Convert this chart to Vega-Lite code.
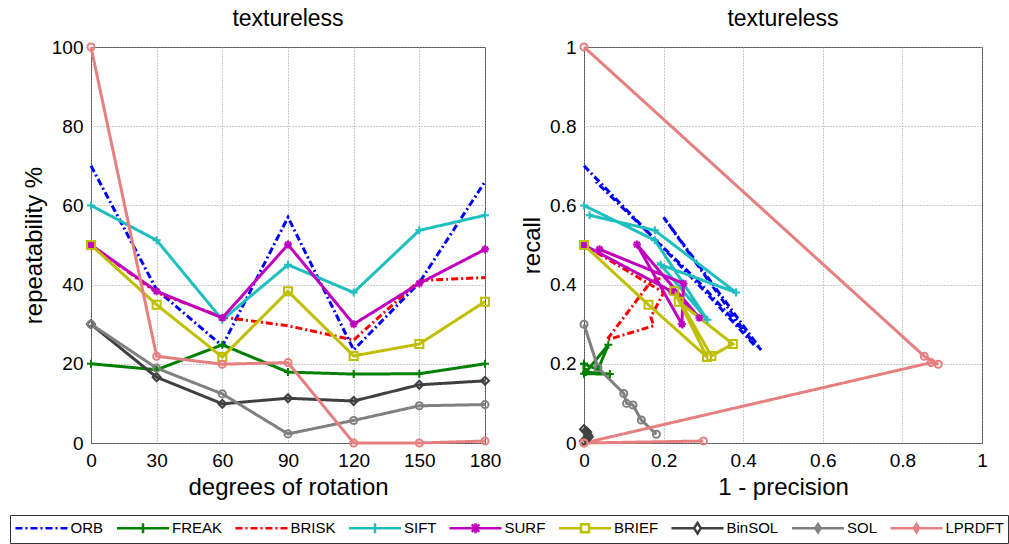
{
  "$schema": "https://vega.github.io/schema/vega-lite/v6.json",
  "padding": {"left": 9, "top": 7, "right": 4, "bottom": 2},
  "spacing": 18,
  "datasets": {
    "rep": [
      {"s": "ORB", "deg": 0, "v": 70}, {"s": "ORB", "deg": 30, "v": 38.7}, {"s": "ORB", "deg": 60, "v": 24.5}, {"s": "ORB", "deg": 90, "v": 57}, {"s": "ORB", "deg": 120, "v": 23.5}, {"s": "ORB", "deg": 150, "v": 40.5}, {"s": "ORB", "deg": 180, "v": 66},
      {"s": "FREAK", "deg": 0, "v": 20}, {"s": "FREAK", "deg": 30, "v": 18.5}, {"s": "FREAK", "deg": 60, "v": 24.8}, {"s": "FREAK", "deg": 90, "v": 17.9}, {"s": "FREAK", "deg": 120, "v": 17.4}, {"s": "FREAK", "deg": 150, "v": 17.5}, {"s": "FREAK", "deg": 180, "v": 20},
      {"s": "BRISK", "deg": 0, "v": 50}, {"s": "BRISK", "deg": 30, "v": 38}, {"s": "BRISK", "deg": 60, "v": 31.8}, {"s": "BRISK", "deg": 90, "v": 29.6}, {"s": "BRISK", "deg": 120, "v": 26}, {"s": "BRISK", "deg": 150, "v": 41}, {"s": "BRISK", "deg": 180, "v": 41.8},
      {"s": "SIFT", "deg": 0, "v": 60}, {"s": "SIFT", "deg": 30, "v": 51.2}, {"s": "SIFT", "deg": 60, "v": 31.1}, {"s": "SIFT", "deg": 90, "v": 45}, {"s": "SIFT", "deg": 120, "v": 38}, {"s": "SIFT", "deg": 150, "v": 53.7}, {"s": "SIFT", "deg": 180, "v": 57.5},
      {"s": "SURF", "deg": 0, "v": 50}, {"s": "SURF", "deg": 30, "v": 38.3}, {"s": "SURF", "deg": 60, "v": 31.6}, {"s": "SURF", "deg": 90, "v": 50.1}, {"s": "SURF", "deg": 120, "v": 30}, {"s": "SURF", "deg": 150, "v": 40.3}, {"s": "SURF", "deg": 180, "v": 48.9},
      {"s": "BRIEF", "deg": 0, "v": 50}, {"s": "BRIEF", "deg": 30, "v": 34.9}, {"s": "BRIEF", "deg": 60, "v": 21.7}, {"s": "BRIEF", "deg": 90, "v": 38.3}, {"s": "BRIEF", "deg": 120, "v": 22}, {"s": "BRIEF", "deg": 150, "v": 25}, {"s": "BRIEF", "deg": 180, "v": 35.7},
      {"s": "BinSOL", "deg": 0, "v": 30}, {"s": "BinSOL", "deg": 30, "v": 16.6}, {"s": "BinSOL", "deg": 60, "v": 9.9}, {"s": "BinSOL", "deg": 90, "v": 11.3}, {"s": "BinSOL", "deg": 120, "v": 10.6}, {"s": "BinSOL", "deg": 150, "v": 14.7}, {"s": "BinSOL", "deg": 180, "v": 15.7},
      {"s": "SOL", "deg": 0, "v": 30}, {"s": "SOL", "deg": 30, "v": 18.9}, {"s": "SOL", "deg": 60, "v": 12.4}, {"s": "SOL", "deg": 90, "v": 2.3}, {"s": "SOL", "deg": 120, "v": 5.7}, {"s": "SOL", "deg": 150, "v": 9.4}, {"s": "SOL", "deg": 180, "v": 9.7},
      {"s": "LPRDFT", "deg": 0, "v": 100}, {"s": "LPRDFT", "deg": 30, "v": 21.9}, {"s": "LPRDFT", "deg": 60, "v": 19.9}, {"s": "LPRDFT", "deg": 90, "v": 20.3}, {"s": "LPRDFT", "deg": 120, "v": 0}, {"s": "LPRDFT", "deg": 150, "v": 0}, {"s": "LPRDFT", "deg": 180, "v": 0.5}
    ],
    "pr": [
      {"s": "ORB", "i": 0, "fp": 0, "recall": 0.70}, {"s": "ORB", "i": 1, "fp": 0.30, "recall": 0.387}, {"s": "ORB", "i": 2, "fp": 0.43, "recall": 0.245}, {"s": "ORB", "i": 3, "fp": 0.20, "recall": 0.57}, {"s": "ORB", "i": 4, "fp": 0.445, "recall": 0.235}, {"s": "ORB", "i": 5, "fp": 0.29, "recall": 0.405}, {"s": "ORB", "i": 6, "fp": 0.03, "recall": 0.66},
      {"s": "FREAK", "i": 0, "fp": 0, "recall": 0.20}, {"s": "FREAK", "i": 1, "fp": 0.035, "recall": 0.185}, {"s": "FREAK", "i": 2, "fp": 0.061, "recall": 0.248}, {"s": "FREAK", "i": 3, "fp": 0.005, "recall": 0.179}, {"s": "FREAK", "i": 4, "fp": 0.065, "recall": 0.174}, {"s": "FREAK", "i": 5, "fp": 0, "recall": 0.175}, {"s": "FREAK", "i": 6, "fp": 0, "recall": 0.20},
      {"s": "BRISK", "i": 0, "fp": 0, "recall": 0.50}, {"s": "BRISK", "i": 1, "fp": 0.20, "recall": 0.38}, {"s": "BRISK", "i": 2, "fp": 0.168, "recall": 0.318}, {"s": "BRISK", "i": 3, "fp": 0.175, "recall": 0.296}, {"s": "BRISK", "i": 4, "fp": 0.057, "recall": 0.26}, {"s": "BRISK", "i": 5, "fp": 0.17, "recall": 0.41}, {"s": "BRISK", "i": 6, "fp": 0.2, "recall": 0.418},
      {"s": "SIFT", "i": 0, "fp": 0, "recall": 0.60}, {"s": "SIFT", "i": 1, "fp": 0.178, "recall": 0.512}, {"s": "SIFT", "i": 2, "fp": 0.31, "recall": 0.311}, {"s": "SIFT", "i": 3, "fp": 0.193, "recall": 0.45}, {"s": "SIFT", "i": 4, "fp": 0.382, "recall": 0.38}, {"s": "SIFT", "i": 5, "fp": 0.178, "recall": 0.537}, {"s": "SIFT", "i": 6, "fp": 0.014, "recall": 0.575},
      {"s": "SURF", "i": 0, "fp": 0, "recall": 0.50}, {"s": "SURF", "i": 1, "fp": 0.22, "recall": 0.383}, {"s": "SURF", "i": 2, "fp": 0.29, "recall": 0.316}, {"s": "SURF", "i": 3, "fp": 0.133, "recall": 0.501}, {"s": "SURF", "i": 4, "fp": 0.246, "recall": 0.30}, {"s": "SURF", "i": 5, "fp": 0.25, "recall": 0.403}, {"s": "SURF", "i": 6, "fp": 0.039, "recall": 0.489},
      {"s": "BRIEF", "i": 0, "fp": 0, "recall": 0.50}, {"s": "BRIEF", "i": 1, "fp": 0.162, "recall": 0.349}, {"s": "BRIEF", "i": 2, "fp": 0.309, "recall": 0.217}, {"s": "BRIEF", "i": 3, "fp": 0.227, "recall": 0.383}, {"s": "BRIEF", "i": 4, "fp": 0.32, "recall": 0.22}, {"s": "BRIEF", "i": 5, "fp": 0.374, "recall": 0.25}, {"s": "BRIEF", "i": 6, "fp": 0.238, "recall": 0.357},
      {"s": "BinSOL", "i": 0, "fp": 0, "recall": 0.035}, {"s": "BinSOL", "i": 1, "fp": 0.008, "recall": 0.028}, {"s": "BinSOL", "i": 2, "fp": 0.012, "recall": 0.015}, {"s": "BinSOL", "i": 3, "fp": 0.006, "recall": 0.01}, {"s": "BinSOL", "i": 4, "fp": 0, "recall": 0.005}, {"s": "BinSOL", "i": 5, "fp": 0.01, "recall": 0.02}, {"s": "BinSOL", "i": 6, "fp": 0.004, "recall": 0.03},
      {"s": "SOL", "i": 0, "fp": 0, "recall": 0.30}, {"s": "SOL", "i": 1, "fp": 0.035, "recall": 0.19}, {"s": "SOL", "i": 2, "fp": 0.10, "recall": 0.125}, {"s": "SOL", "i": 3, "fp": 0.107, "recall": 0.10}, {"s": "SOL", "i": 4, "fp": 0.123, "recall": 0.096}, {"s": "SOL", "i": 5, "fp": 0.144, "recall": 0.058}, {"s": "SOL", "i": 6, "fp": 0.182, "recall": 0.022},
      {"s": "LPRDFT", "i": 0, "fp": 0, "recall": 1.0}, {"s": "LPRDFT", "i": 1, "fp": 0.855, "recall": 0.219}, {"s": "LPRDFT", "i": 2, "fp": 0.89, "recall": 0.199}, {"s": "LPRDFT", "i": 3, "fp": 0.872, "recall": 0.203}, {"s": "LPRDFT", "i": 4, "fp": 0, "recall": 0}, {"s": "LPRDFT", "i": 5, "fp": 0, "recall": 0}, {"s": "LPRDFT", "i": 6, "fp": 0.30, "recall": 0.005}
    ]
  },
  "hconcat": [
    {
      "width": 394,
      "height": 396,
      "title": "textureless",
      "data": {"name": "rep"},
      "encoding": {
        "x": {"field": "deg", "type": "quantitative", "scale": {"domain": [0, 180], "nice": false}, "axis": {"values": [0, 30, 60, 90, 120, 150, 180], "title": "degrees of rotation"}},
        "y": {"field": "v", "type": "quantitative", "scale": {"domain": [0, 100], "nice": false}, "axis": {"values": [0, 20, 40, 60, 80, 100], "title": "repeatability %"}},
        "color": {
          "field": "s", "type": "nominal",
          "scale": {"domain": ["ORB", "FREAK", "BRISK", "SIFT", "SURF", "BRIEF", "BinSOL", "SOL", "LPRDFT"], "range": ["#0000ff", "#008000", "#ff0000", "#1fbfbf", "#bf00bf", "#bfbf00", "#404040", "#808080", "#e67f7f"]},
          "legend": {"orient": "none", "legendX": -81, "legendY": 468, "direction": "horizontal", "columns": 9, "title": null}
        }
      },
      "layer": [
        {
          "mark": {"type": "line", "strokeWidth": 3},
          "encoding": {
            "strokeDash": {
              "field": "s", "type": "nominal",
              "scale": {"domain": ["ORB", "FREAK", "BRISK", "SIFT", "SURF", "BRIEF", "BinSOL", "SOL", "LPRDFT"], "range": [[7, 3, 2, 3], [1, 0], [7, 3, 2, 3], [1, 0], [1, 0], [1, 0], [1, 0], [1, 0], [1, 0]]}
            }
          }
        },
        {"transform": [{"filter": "datum.s === 'FREAK' || datum.s === 'SIFT'"}], "mark": {"type": "point", "shape": "M-1,0H1M0,-1V1", "filled": false, "strokeWidth": 2, "size": 64, "opacity": 1}},
        {"transform": [{"filter": "datum.s === 'SURF'"}], "mark": {"type": "point", "shape": "M-1,0H1M0,-1V1M-0.7,-0.7L0.7,0.7M-0.7,0.7L0.7,-0.7", "filled": false, "strokeWidth": 2, "size": 64, "opacity": 1}},
        {"transform": [{"filter": "datum.s === 'BRIEF'"}], "mark": {"type": "point", "shape": "square", "filled": false, "strokeWidth": 2, "size": 64, "opacity": 1}},
        {"transform": [{"filter": "datum.s === 'BinSOL'"}], "mark": {"type": "point", "shape": "diamond", "filled": false, "strokeWidth": 2, "size": 64, "opacity": 1}},
        {"transform": [{"filter": "datum.s === 'SOL' || datum.s === 'LPRDFT'"}], "mark": {"type": "point", "shape": "circle", "filled": false, "strokeWidth": 2, "size": 50, "opacity": 1}},
        {
          "transform": [{"filter": "datum.deg < 0"}],
          "mark": {"type": "point", "filled": false, "strokeWidth": 2.5, "opacity": 1},
          "encoding": {
            "shape": {"field": "s", "type": "nominal", "legend": null,
              "scale": {"domain": ["ORB", "FREAK", "BRISK", "SIFT", "SURF", "BRIEF", "BinSOL", "SOL", "LPRDFT"],
                "range": [
                  "M0,-0.75M0,0.75M-3.47,0H3.47",
                  "M0,-0.75M0,0.75M-3.47,0H3.47M0,-0.67V0.67",
                  "M0,-0.75M0,0.75M-3.47,0H3.47",
                  "M0,-0.75M0,0.75M-3.47,0H3.47M0,-0.67V0.67",
                  "M0,-0.75M0,0.75M-3.47,0H3.47M0,-0.67V0.67M-0.5,-0.5L0.5,0.5M-0.5,0.5L0.5,-0.5",
                  "M0,-0.75M0,0.75M-3.47,0H-0.53M0.53,0H3.47M-0.53,-0.53H0.53V0.53H-0.53Z",
                  "M0,-0.75M0,0.75M-3.47,0H-0.45M0.45,0H3.47M0,-0.7L0.45,0L0,0.7L-0.45,0Z",
                  "M0,-0.75M0,0.75M-3.47,0H3.47M0,-0.55L0.35,0L0,0.55L-0.35,0Z",
                  "M0,-0.75M0,0.75M-3.47,0H3.47M0,-0.55L0.35,0L0,0.55L-0.35,0Z"
                ]}},
            "strokeDash": {"field": "s", "type": "nominal"}
          }
        }
      ]
    },
    {
      "width": 398,
      "height": 396,
      "title": "textureless",
      "data": {"name": "pr"},
      "encoding": {
        "x": {"field": "fp", "type": "quantitative", "scale": {"domain": [0, 1], "nice": false}, "axis": {"values": [0, 0.2, 0.4, 0.6, 0.8, 1], "format": "~g", "title": "1 - precision"}},
        "y": {"field": "recall", "type": "quantitative", "scale": {"domain": [0, 1], "nice": false}, "axis": {"values": [0, 0.2, 0.4, 0.6, 0.8, 1], "format": "~g", "title": "recall"}},
        "color": {"field": "s", "type": "nominal"},
        "order": {"field": "i", "type": "quantitative"}
      },
      "layer": [
        {"mark": {"type": "line", "strokeWidth": 3}, "encoding": {"strokeDash": {"field": "s", "type": "nominal"}}},
        {"transform": [{"filter": "datum.s === 'FREAK' || datum.s === 'SIFT'"}], "mark": {"type": "point", "shape": "M-1,0H1M0,-1V1", "filled": false, "strokeWidth": 2, "size": 64, "opacity": 1}},
        {"transform": [{"filter": "datum.s === 'SURF'"}], "mark": {"type": "point", "shape": "M-1,0H1M0,-1V1M-0.7,-0.7L0.7,0.7M-0.7,0.7L0.7,-0.7", "filled": false, "strokeWidth": 2, "size": 64, "opacity": 1}},
        {"transform": [{"filter": "datum.s === 'BRIEF'"}], "mark": {"type": "point", "shape": "square", "filled": false, "strokeWidth": 2, "size": 64, "opacity": 1}},
        {"transform": [{"filter": "datum.s === 'BinSOL'"}], "mark": {"type": "point", "shape": "diamond", "filled": false, "strokeWidth": 2, "size": 64, "opacity": 1}},
        {"transform": [{"filter": "datum.s === 'SOL' || datum.s === 'LPRDFT'"}], "mark": {"type": "point", "shape": "circle", "filled": false, "strokeWidth": 2, "size": 50, "opacity": 1}}
      ]
    }
  ],
  "config": {
    "font": "Liberation Sans",
    "view": {"stroke": "#4d4d4d", "strokeWidth": 1},
    "axis": {
      "labelFontSize": 19, "labelColor": "#000", "titleFontSize": 24, "titleFontWeight": "normal", "titleColor": "#000",
      "domain": false, "ticks": false, "labelPadding": 8, "titlePadding": 5,
      "grid": true, "gridColor": "#9a9a9a", "gridDash": [1, 2], "gridOpacity": 1,
      "labelFlush": false, "labelOverlap": false
    },
    "title": {"fontSize": 23, "fontWeight": "normal", "offset": 7, "frame": "group", "color": "#000"},
    "legend": {
      "strokeColor": "#333", "fillColor": "#fff", "padding": 4,
      "labelFontSize": 15, "labelFont": "Liberation Sans", "labelColor": "#000",
      "symbolSize": 225, "symbolStrokeWidth": 2.5, "symbolOffset": 18.5, "columnPadding": 7.5, "labelOffset": 20
    }
  }
}
